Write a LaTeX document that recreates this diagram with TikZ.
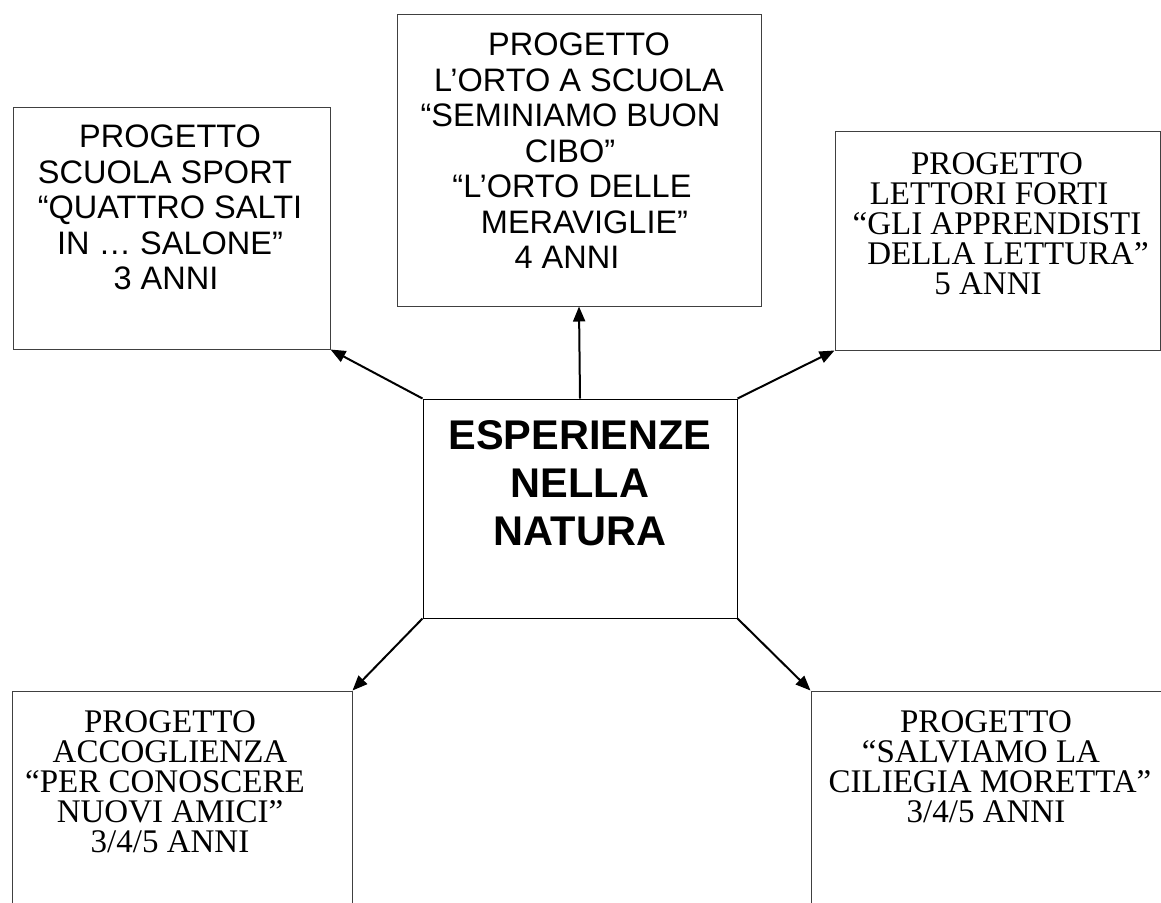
\documentclass[tikz,border=0pt]{standalone}
\usepackage{fontspec}
\setmainfont{Liberation Serif}
\newfontfamily\arialf{Liberation Sans}
\usetikzlibrary{arrows.meta}
\tikzset{
  box/.style={draw=black!75, line width=1pt, inner sep=0pt, fill=none},
  lbl/.style={inner sep=0pt, anchor=north, align=center},
  sanslbl/.style={lbl, font={\arialf\fontsize{32.5}{35.5}\selectfont}},
  seriflbl/.style={lbl, font={\fontsize{33}{30}\selectfont}},
  titlelbl/.style={lbl, font={\arialf\bfseries\fontsize{41.5}{48}\selectfont}},
  arr/.style={line width=2pt, -{Triangle[length=15pt,width=12pt]}}
}
\begin{document}
\begin{tikzpicture}[x=1pt,y=-1pt]
\useasboundingbox (0,0) rectangle (1161,902);
\clip (0,0) rectangle (1161,902);
% boxes
\node[box, minimum width=317pt, minimum height=242pt] (tl) at (171.5,228) {};
\node[box, minimum width=364pt, minimum height=292pt] (tc) at (579,160) {};
\node[box, minimum width=325pt, minimum height=219pt] (tr) at (997.5,240.5) {};
\node[box, draw=black, minimum width=314pt, minimum height=219pt] (c) at (580,508.5) {};
\node[box, minimum width=340pt, minimum height=300pt] (bl) at (182,841) {};
\node[box, minimum width=389pt, minimum height=300pt] (br) at (1005.5,841) {};
% texts
\node[sanslbl] (tltext) at (170,125) {PROGETTO\\SCUOLA SPORT\kern10pt\\“QUATTRO SALTI\\IN … SALONE”\\3 ANNI\kern8pt};
\node[sanslbl] (tctext) at (579,33) {PROGETTO\\L’ORTO A SCUOLA\\“SEMINIAMO BUON\kern17pt\\CIBO”\kern18pt\\“L’ORTO DELLE\kern14pt\\\kern11pt MERAVIGLIE”\\4 ANNI\kern24pt};
\node[seriflbl] (trtext) at (997,152) {PROGETTO\\LETTORI FORTI\kern16pt\\“GLI APPRENDISTI\\\kern22pt DELLA LETTURA”\\5 ANNI\kern18pt};
\node[titlelbl] (ctext) at (580,420) {ESPERIENZE\\NELLA\\NATURA};
\node[seriflbl] (bltext) at (170,710) {PROGETTO\\ACCOGLIENZA\\“PER CONOSCERE\kern10pt\\NUOVI AMICI”\\3/4/5 ANNI};
\node[seriflbl] (brtext) at (986,710) {PROGETTO\\“SALVIAMO LA\kern10pt\\\kern8pt CILIEGIA MORETTA”\\3/4/5 ANNI};
% connectors
\draw[arr] (c.north) -- (tc.south);
\draw[arr] (c.north west) -- (tl.south east);
\draw[arr] (c.north east) -- (tr.south west);
\draw[arr] (c.south west) -- (bl.north east);
\draw[arr] (c.south east) -- (br.north west);
\end{tikzpicture}
\end{document}
